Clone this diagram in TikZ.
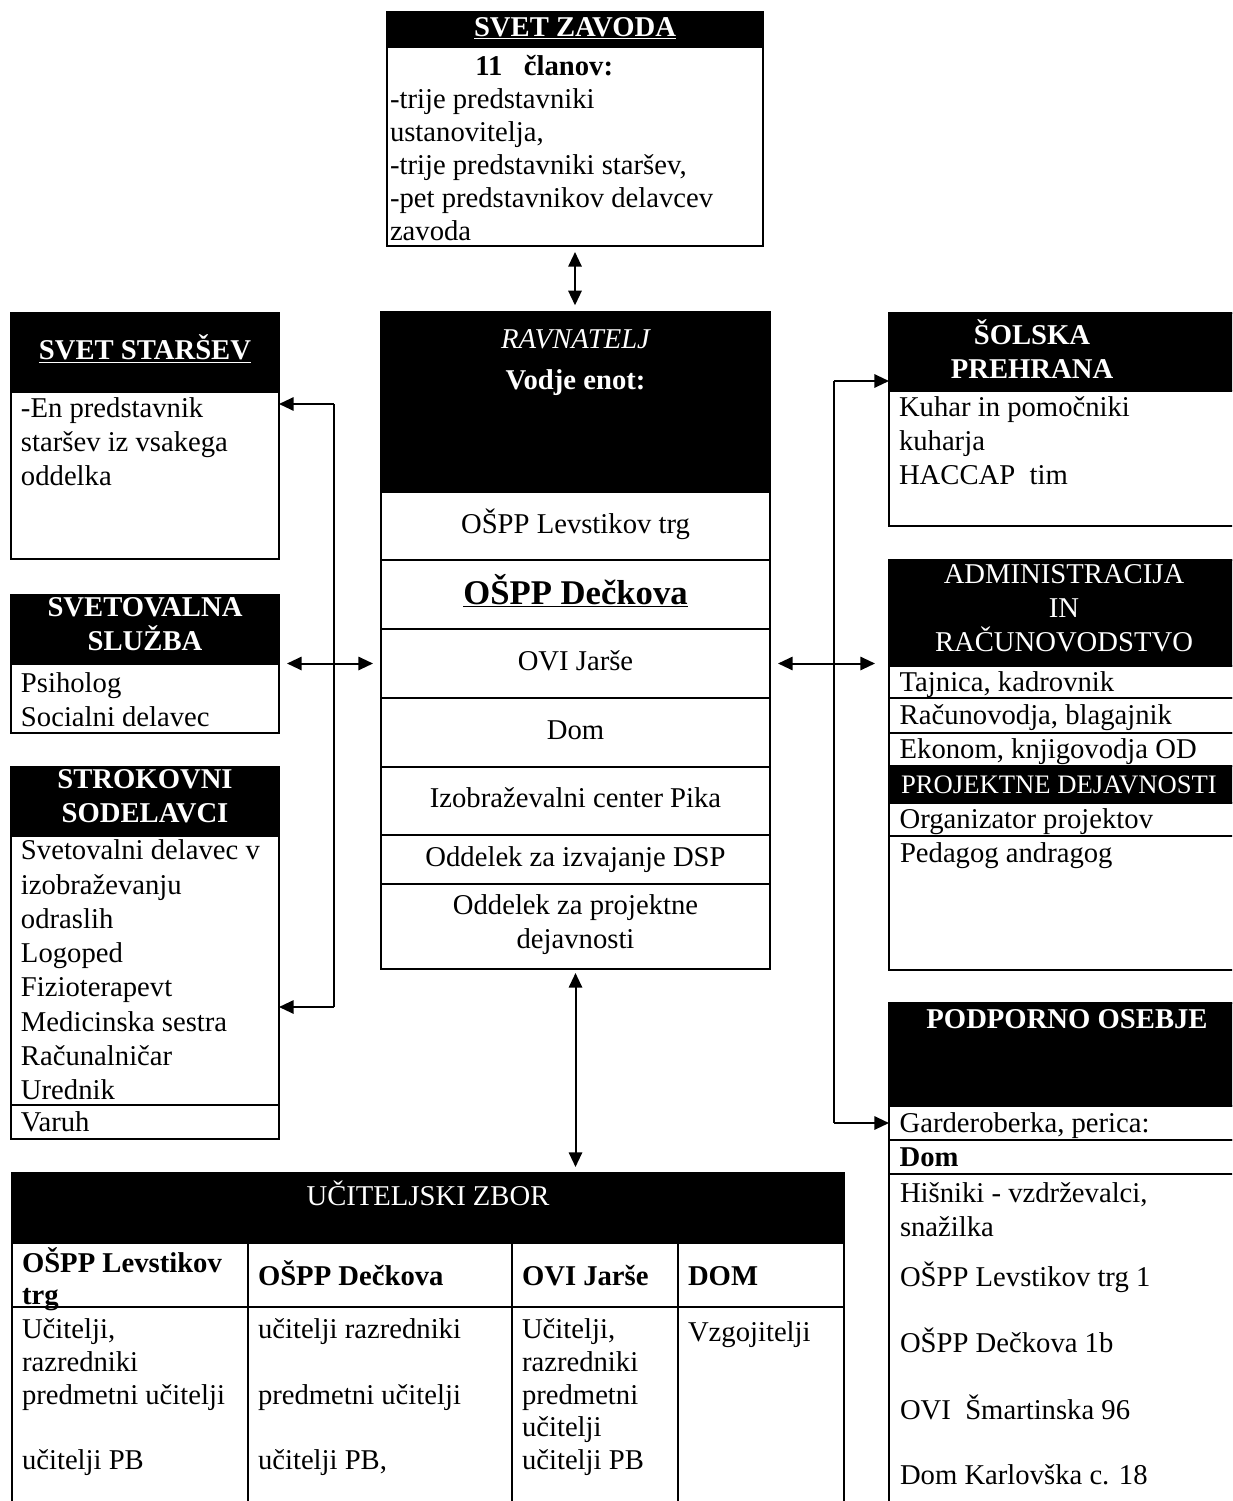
\documentclass[tikz,border=0pt]{standalone}
\usepackage{fontspec}
\setmainfont{Liberation Serif}
\usetikzlibrary{arrows.meta}
\newcommand{\bodyfont}{\fontsize{21.5pt}{25.5pt}\selectfont}

\tikzset{
	every node/.style={font=\bodyfont, inner sep=0pt, outer sep=0pt},
	dims/.style 2 args={minimum width=#1*0.75pt, minimum height=#2*0.75pt},
	box/.style={draw, line width=1.6pt, anchor=north west},
	blk/.style={box, fill=black},
	head/.style={text=white, align=center, font=\bodyfont\bfseries, execute at begin node=\strut, execute at end node=\strut},
	cell/.style={align=center, execute at begin node=\strut, execute at end node=\strut},
	body/.style={anchor=north west, align=left, execute at begin node=\strut},
	lt/.style={anchor=west, text height=18pt, text depth=4pt},
	link/.style={line width=1.5pt},
	bus/.style={line width=1.2pt},
	>={Triangle[length=11pt,width=10pt]},
}

\begin{document}
\begin{tikzpicture}[x=0.75pt, y=-0.75pt]
	\clip (0,0) rectangle (1232,1501);

	% svet zavoda
	\node[box, dims={376}{234}] (zavod) at (387,12) {};
	\node[blk, head, dims={376}{35}] (zavodH) at (387,12) {\underline{SVET ZAVODA}};
	\node[body, font=\fontsize{21.5pt}{24.75pt}\selectfont] (zavodT) at (390,55)
	{\hspace*{64pt}\textbf{11~~~članov:}\\-trije predstavniki\\ustanovitelja,\\-trije predstavniki staršev,\\-pet predstavnikov delavcev\\zavoda};

	% ravnatelj
	\node[box, dims={389}{657}] (ravnatelj) at (381,312) {};
	\node[blk, dims={389}{180}] (ravH) at (381,312) {};
	\node[head, font=\bodyfont\itshape] at (575.5,342) {RAVNATELJ};
	\node[head] at (575.5,383) {Vodje enot:};
	\foreach \n/\y/\h/\t in {r1/492/68/{OŠPP Levstikov trg},
		r2/560/69/{\fontsize{26pt}{30pt}\selectfont\bfseries\underline{OŠPP Dečkova}},
		r3/629/69/{OVI Jarše}, r4/698/69/{Dom}, r5/767/68/{Izobraževalni center Pika},
		r6/835/49/{Oddelek za izvajanje DSP}, r7/884/85/{Oddelek za projektne\\dejavnosti}}
	\node[box, cell, dims={389}{\h}] (\n) at (381,\y) {\t};

	% left column
	\node[box, dims={268}{246}] (starsi) at (11,313) {};
	\node[blk, head, dims={268}{79}] (starsiH) at (11,313) {\underline{SVET STARŠEV}};
	\node[body] at (21,398) {-En predstavnik\\staršev iz vsakega\\oddelka};

	\node[box, dims={268}{138}] (svetovalna) at (11,595) {};
	\node[blk, head, dims={268}{69}] (svetovalnaH) at (11,595) {SVETOVALNA\\SLUŽBA};
	\node[body] at (21,673) {Psiholog\\Socialni delavec};

	\node[box, dims={268}{372}] (strokovni) at (11,767) {};
	\node[blk, head, dims={268}{69}] (strokovniH) at (11,767) {STROKOVNI\\SODELAVCI};
	\node[body, font=\fontsize{21.5pt}{25.7pt}\selectfont] at (21,840)
	{Svetovalni delavec v\\izobraževanju\\odraslih\\Logoped\\Fizioterapevt\\Medicinska sestra\\Računalničar\\Urednik};
	\node[box, dims={268}{34}] (varuh) at (11,1105) {};
	\node[lt] at ([xshift=7.5pt]varuh.west) {Varuh};

	% right column
	\node[box, dims={360}{213}] (prehrana) at (889,313) {};
	\node[blk, dims={360}{78}] (prehranaH) at (889,313) {};
	\node[head] at (1032,354) {ŠOLSKA\\PREHRANA};
	\node[body] at (899,397) {Kuhar in pomočniki\\kuharja\\HACCAP~~tim};

	\node[box, dims={360}{410}] (admin) at (889,560) {};
	\node[blk, dims={360}{106}] (adminH) at (889,560) {};
	\node[head, font=\bodyfont] at (1064,613) {ADMINISTRACIJA\\IN\\RAČUNOVODSTVO};
	\foreach \n/\y/\h/\t in {a1/666/32/{Tajnica, kadrovnik}, a2/698/35/{Računovodja, blagajnik},
		a3/733/33/{Ekonom, knjigovodja OD}, a5/803/33/{Organizator projektov}}{
		\node[box, dims={360}{\h}] (\n) at (889,\y) {};
		\node[lt] at ([xshift=8pt]\n.west) {\t};
	}
	\node[blk, dims={360}{37}] (a4) at (889,766) {};
	\node[lt, text=white, font=\fontsize{20pt}{24pt}\selectfont] at ([xshift=9pt]a4.west) {PROJEKTNE DEJAVNOSTI};
	\node[lt] at (900,853) {Pedagog andragog};

	\node[box, dims={360}{530}] (podporno) at (889,1003) {};
	\node[blk, dims={360}{103}] (podpornoH) at (889,1003) {};
	\node[head] at (1067,1022) {PODPORNO OSEBJE};
	\node[box, dims={360}{34}] (p1) at (889,1106) {};
	\node[lt] at ([xshift=8pt]p1.west) {Garderoberka, perica:};
	\node[box, dims={360}{34}] (p2) at (889,1140) {};
	\node[lt, font=\bodyfont\bfseries] at ([xshift=8pt]p2.west) {Dom};
	\foreach \t/\y in {{Hišniki - vzdrževalci,}/1193, snažilka/1227, {OŠPP Levstikov trg 1}/1277,
		{OŠPP Dečkova 1b}/1343, {OVI~~Šmartinska 96}/1410, {Dom Karlovška c. 18}/1475}
	\node[lt] at (900,\y) {\t};

	% uciteljski zbor
	\node[box, dims={832}{360}] (zbor) at (12,1173) {};
	\node[blk, dims={832}{70}] (zborH) at (12,1173) {};
	\node[head, font=\bodyfont] at (428,1198) {UČITELJSKI ZBOR};
	\foreach \n/\x/\w in {z1/12/236, z2/248/264, z3/512/166, z4/678/166}{
		\node[box, dims={\w}{64}] (\n) at (\x,1243) {};
		\node[box, dims={\w}{240}] (\n b) at (\x,1307) {};
	}
	\node[body, font=\fontsize{21.5pt}{24pt}\selectfont\bfseries] at (22,1248) {OŠPP Levstikov\\trg};
	\node[lt, font=\bodyfont\bfseries] at (258,1276) {OŠPP Dečkova};
	\node[lt, font=\bodyfont\bfseries] at (522,1276) {OVI Jarše};
	\node[lt, font=\bodyfont\bfseries] at (688,1276) {DOM};
	\node[body, font=\fontsize{21.5pt}{24.4pt}\selectfont] at (22,1319)
	{Učitelji,\\razredniki\\predmetni učitelji\\~\\učitelji PB};
	\node[body, font=\fontsize{21.5pt}{24.4pt}\selectfont] at (258,1319)
	{učitelji razredniki\\~\\predmetni učitelji\\~\\učitelji PB,};
	\node[body, font=\fontsize{21.5pt}{24.4pt}\selectfont] at (522,1319)
	{Učitelji,\\razredniki\\predmetni\\učitelji\\učitelji PB};
	\node[body, font=\fontsize{21.5pt}{24.4pt}\selectfont] at (688,1319) {Vzgojitelji};

	% connectors
	\draw[link, <->, shorten <=4.5pt, shorten >=5pt] (zavod.south) -- (zavod.south |- ravnatelj.north);
	\draw[link, <->, shorten <=3pt, shorten >=4.5pt] (ravnatelj.south) -- (ravnatelj.south |- zbor.north);

	\coordinate (lbusT) at (334,404);
	\coordinate (lbusB) at (334,1007);
	\draw[bus] (lbusT) -- (lbusB);
	\draw[link, ->] (lbusT) -- (lbusT -| starsi.east);
	\draw[link, ->] (lbusB) -- (lbusB -| strokovni.east);
	\draw[link, <->, shorten <=6pt, shorten >=6pt] (r3.west) -- (r3.west -| svetovalna.east);

	\coordinate (rbusT) at (834,381);
	\coordinate (rbusB) at (834,1123);
	\draw[bus] (rbusT) -- (rbusB);
	\draw[link, ->] (rbusT) -- (rbusT -| prehrana.west);
	\draw[link, ->] (rbusB) -- (rbusB -| podporno.west);
	\draw[link, <->, shorten <=6pt, shorten >=10.5pt] (r3.east) -- (r3.east -| admin.west);
\end{tikzpicture}
\end{document}
